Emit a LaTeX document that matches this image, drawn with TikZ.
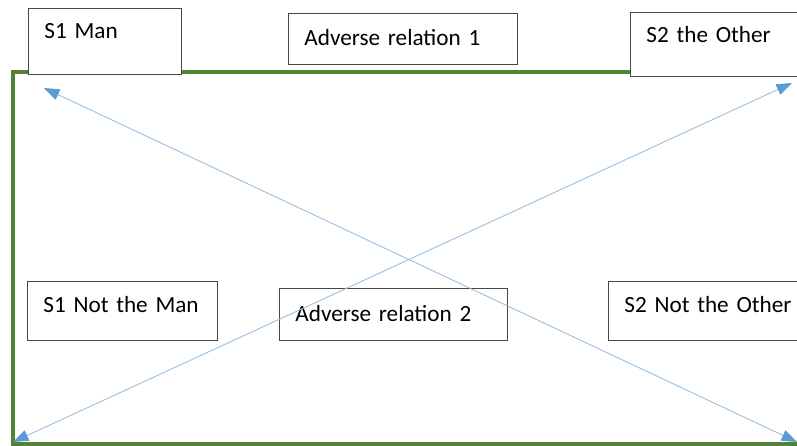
\documentclass[tikz,border=0pt]{standalone}
\usepackage{fontspec}
\setmainfont{Carlito}
\usepackage{tikz}
\usetikzlibrary{
  arrows.meta,%
  calc
}
\definecolor{framegreen}{RGB}{84,130,53}
\definecolor{boxgray}{RGB}{70,70,70}
\definecolor{lineblue}{RGB}{150,188,222}
\definecolor{headblue}{RGB}{91,155,213}
\tikzset{font=\fontsize{16.5}{20}\selectfont}
\tikzset{relbox/.style={draw=boxgray, line width=0.6pt, fill=white,
    anchor=north west, align=left, inner xsep=0.4cm, inner ysep=0pt}}
\tikzset{frameline/.style={draw=framegreen, line width=2.6pt}}
\tikzset{crossarrow/.style={draw=lineblue, line width=0.6pt,
    {Triangle[length=11pt,width=8pt,color=headblue]}-{Triangle[length=11pt,width=8pt,color=headblue]}}}

\begin{document}
\begin{tikzpicture}[x=0.025cm, y=-0.025cm]
          \clip (0,0) rectangle (797,446);
          % green frame, open to the right
          \coordinate (frameNE) at (805,72);
          \coordinate (frameNW) at (13,72);
          \coordinate (frameSW) at (13,444);
          \coordinate (frameSE) at (805,444);
          \draw[frameline] (frameNE) -- (frameNW) -- (frameSW) -- (frameSE);
          % the six boxes
          \node[relbox, text width=3.025cm, text height=0.75cm, text depth=0.9cm] (man) at (28,8) {S1 Man};
          \node[relbox, text width=4.925cm, text height=0.8cm, text depth=0.475cm] (adverseA) at (288,13) {Adverse relation 1};
          \node[relbox, text width=3.575cm, text height=0.75cm, text depth=0.85cm] (other) at (630,12) {S2 the Other};
          \node[relbox, text width=3.95cm, text height=0.775cm, text depth=0.7cm] (notman) at (27,281) {S1 Not the Man};
          \node[relbox, text width=4.9cm, text height=0.825cm, text depth=0.475cm] (adverseB) at (279,288) {Adverse relation 2};
          \node[relbox, text width=4.2cm, text height=0.775cm, text depth=0.7cm] (notother) at (608,281) {S2 Not the Other};
          % the two crossing arrows
          \coordinate (manTip) at (44,88);
          \coordinate (nototherTip) at (797,442);
          \coordinate (notmanTip) at (13,442);
          \coordinate (otherTip) at (792,83);
          \draw[crossarrow] (manTip) -- (nototherTip);
          \draw[crossarrow] (notmanTip) -- (otherTip);
        \end{tikzpicture}
\end{document}
